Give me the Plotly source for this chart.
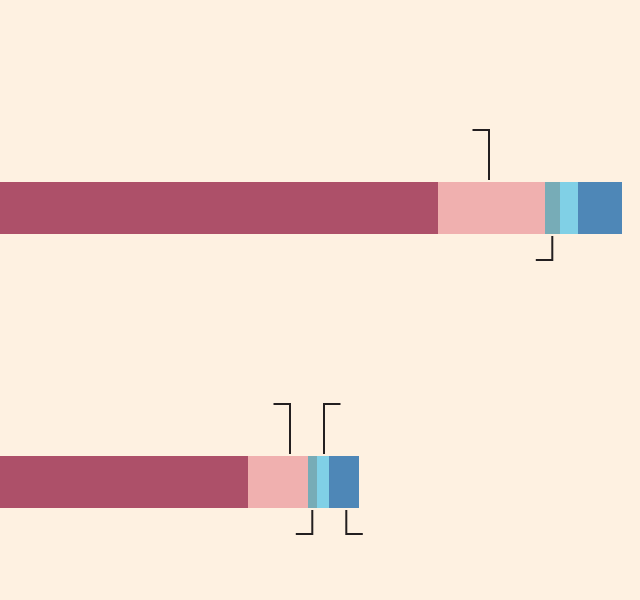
import plotly.graph_objects as go

# Data (arbitrary units, full axis = 640)
rows = [1, 0]  # top bar, bottom bar
segment_names = ["A", "B", "C", "D", "E"]
seg_a = [438.0, 248.3]
seg_b = [107.0, 59.4]
seg_c = [15.3, 9.3]
seg_d = [17.4, 11.7]
seg_e = [44.6, 30.6]
colors = ["#AD5069", "#F0B0AF", "#77ACB7", "#80D0E6", "#4E87B7"]

# Callout leader positions (x in data units), row, side (up/down), hook (-1 left / +1 right)
callout_x = [489.0, 552.3, 290.0, 324.0, 312.3, 346.3]
callout_row = [1, 1, 0, 0, 0, 0]
callout_side = ["up", "down", "up", "up", "down", "down"]
callout_hook = [-1, -1, -1, 1, -1, 1]

bar_w = 52 / 274
fig = go.Figure()
for name, vals, col in zip(segment_names, [seg_a, seg_b, seg_c, seg_d, seg_e], colors):
    fig.add_trace(go.Bar(
        y=rows, x=vals, orientation="h", name=name,
        marker=dict(color=col, line=dict(width=0)),
        width=bar_w, hoverinfo="skip",
    ))

gap = 2 / 274
up_len = 50 / 274
down_len = 24 / 274
hook_len = 16.5
for x, r, side, hook in zip(callout_x, callout_row, callout_side, callout_hook):
    if side == "up":
        y0 = r + bar_w / 2 + gap
        y1 = y0 + up_len
    else:
        y0 = r - bar_w / 2 - gap
        y1 = y0 - down_len
    fig.add_shape(type="path",
                  path=f"M {x} {y0} L {x} {y1} L {x + hook * hook_len} {y1}",
                  xref="x", yref="y",
                  line=dict(color="#231F20", width=2))

fig.update_layout(
    width=640, height=600,
    margin=dict(l=0, r=0, t=0, b=0),
    barmode="stack", bargap=0,
    paper_bgcolor="#FEF1E1", plot_bgcolor="#FEF1E1",
    showlegend=False,
    xaxis=dict(range=[0, 640], visible=False, fixedrange=True),
    yaxis=dict(range=[-(600 - 482) / 274, 1 + 208 / 274], visible=False, fixedrange=True),
)
fig.write_html(
    "out.html",
    config={"displayModeBar": False},
    post_script="document.body.style.margin='0';document.body.style.padding='0';"
                "document.body.style.overflow='hidden';"
                "document.body.style.background='#FEF1E1';",
)
